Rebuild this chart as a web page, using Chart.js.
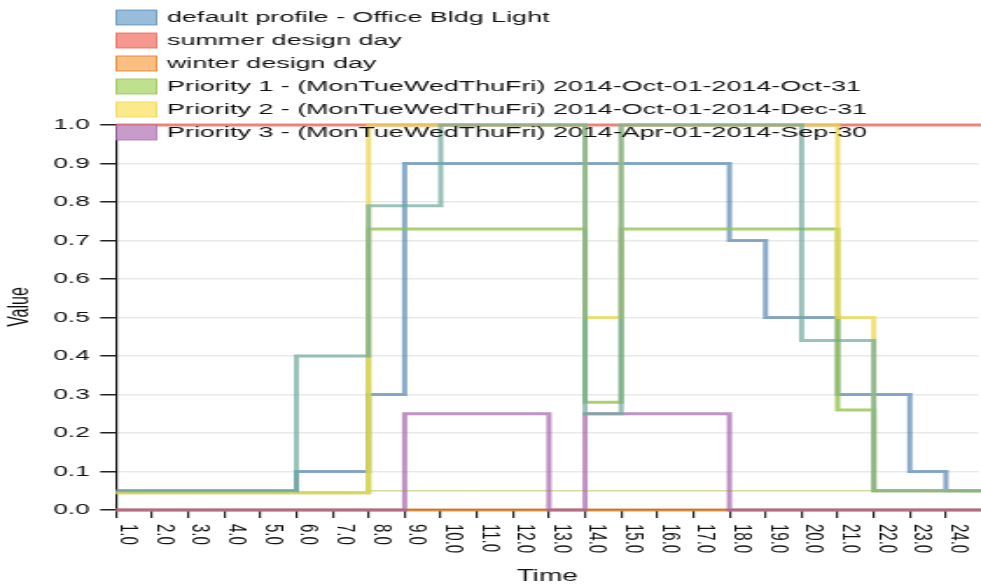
<!DOCTYPE html>
<html>
<head>
<meta charset="utf-8">
<title>Schedule profile - Office Bldg Light</title>
<script src="https://cdn.jsdelivr.net/npm/chart.js@4.4.1/dist/chart.umd.min.js"></script>
<style>
    html, body { margin: 0; padding: 0; background: #fff; overflow: hidden; }
    /* the source picture is stretched sideways, so the chart is drawn narrow and stretched */
    #wrap {
        position: absolute; left: 0; top: 0;
        width: 561px; height: 587px;
        transform: scaleX(1.7487); transform-origin: 0 0;
    }
</style>
</head>
<body>
<div id="wrap"><canvas id="schedule-chart"></canvas></div>
<script>
// ==========================================================
// === DATA (time axis = hour + 1) ===
// ==========================================================
const xTicks = [1, 2, 3, 4, 5, 6, 7, 8, 9, 10, 11, 12, 13, 14, 15, 16, 17, 18, 19, 20, 21, 22, 23, 24];
const yTicks = [0, 0.1, 0.2, 0.3, 0.4, 0.5, 0.6, 0.7, 0.8, 0.9, 1.0];

const seriesNames = [
    'default profile - Office Bldg Light',
    'summer design day',
    'winter design day',
    'Priority 1 - (MonTueWedThuFri) 2014-Oct-01-2014-Oct-31',
    'Priority 2 - (MonTueWedThuFri) 2014-Oct-01-2014-Dec-31',
    'Priority 3 - (MonTueWedThuFri) 2014-Apr-01-2014-Sep-30'
];

// each value holds from its time until the next time
const defaultTimes = [1, 6, 8, 9, 18, 19, 21, 23, 24, 25];
const defaultValues = [0.05, 0.1, 0.3, 0.9, 0.7, 0.5, 0.3, 0.1, 0.05, 0.05];

const summerTimes = [1, 25];
const summerValues = [1.0, 1.0];

const winterTimes = [1, 25];
const winterValues = [0, 0];

const priority1Times = [1, 8, 14, 15, 21, 22, 25];
const priority1Values = [0.045, 0.73, 0.28, 0.73, 0.26, 0.05, 0.05];

const priority2Times = [1, 8, 14, 15, 21, 22, 25];
const priority2Values = [0.045, 1.0, 0.5, 1.0, 0.5, 0.05, 0.05];

const priority3Times = [1, 9, 13, 14, 18, 25];
const priority3Values = [0, 0.25, 0, 0.25, 0, 0];

// lines drawn in the picture that have no legend entry
const tealTimes = [1, 6, 8, 10, 14, 15, 20, 22, 25];
const tealValues = [0.05, 0.4, 0.79, 1.0, 0.25, 1.0, 0.44, 0.05, 0.05];

const baseTimes = [8, 22];
const baseValues = [0.05, 0.05];

// ==========================================================
// === STYLES ===
// ==========================================================
const lineColors = [
    'rgba(60, 115, 165, 0.6)',
    'rgba(235, 95, 80, 0.75)',
    'rgba(225, 130, 45, 0.85)',
    'rgba(150, 195, 80, 0.8)',
    'rgba(235, 215, 80, 0.75)',
    'rgba(165, 100, 170, 0.7)'
];
const swatchFills = ['#98bcdc', '#f6988e', '#fbbf82', '#bfe08c', '#fbe98a', '#c89cca'];
const FONT = '"Liberation Sans", Arial, sans-serif';

const toPoints = (times, values) => times.map((t, i) => ({ x: t, y: values[i] }));

const makeLine = (label, times, values, color, order, width = 3) => ({
    label: label,
    data: toPoints(times, values),
    borderColor: color,
    backgroundColor: color,
    borderWidth: width,
    stepped: true,
    pointRadius: 0,
    fill: false,
    clip: 4,
    order: order
});

// ==========================================================
// === PLUGIN: rotated x labels, axis titles, legend ===
// ==========================================================
const overlayPlugin = {
    id: 'overlay',
    afterDraw(chart) {
        const ctx = chart.ctx;
        const xs = chart.scales.x;
        ctx.save();
        ctx.fillStyle = '#111';

        // x tick labels, read top to bottom
        ctx.font = `15px ${FONT}`;
        ctx.textAlign = 'left';
        ctx.textBaseline = 'middle';
        xs.ticks.forEach(t => {
            const px = xs.getPixelForValue(t.value);
            ctx.save();
            ctx.translate(px + 7, xs.top + 14);
            ctx.rotate(Math.PI / 2);
            ctx.fillText(t.value.toFixed(1), 0, 0);
            ctx.restore();
        });

        // axis titles
        ctx.font = `16px ${FONT}`;
        ctx.textAlign = 'center';
        ctx.fillText('Time', (chart.chartArea.left + chart.chartArea.right) / 2, 577);
        ctx.save();
        ctx.translate(11.5, 307);
        ctx.rotate(-Math.PI / 2);
        ctx.fillText('Value', 0, 0);
        ctx.restore();

        // legend
        ctx.font = `15.4px ${FONT}`;
        ctx.textAlign = 'left';
        seriesNames.forEach((name, i) => {
            const cy = 17.5 + i * 23;
            ctx.fillStyle = swatchFills[i];
            ctx.fillRect(66.5, cy - 7.5, 23, 15);
            ctx.strokeStyle = lineColors[i];
            ctx.lineWidth = 1;
            ctx.strokeRect(66.5, cy - 7.5, 23, 15);
            ctx.fillStyle = '#111';
            ctx.fillText(name, 95.5, cy);
        });
        ctx.restore();
    }
};

// ==========================================================
// === CHART ===
// ==========================================================
document.addEventListener('DOMContentLoaded', () => {
    const ctx = document.getElementById('schedule-chart').getContext('2d');

    new Chart(ctx, {
        type: 'line',
        data: {
            datasets: [
                makeLine('teal profile', tealTimes, tealValues, 'rgba(110, 170, 155, 0.7)', 0),
                makeLine(seriesNames[4], priority2Times, priority2Values, lineColors[4], 1),
                makeLine(seriesNames[3], priority1Times, priority1Values, lineColors[3], 2),
                makeLine(seriesNames[5], priority3Times, priority3Values, lineColors[5], 3),
                makeLine(seriesNames[0], defaultTimes, defaultValues, lineColors[0], 4),
                makeLine('base', baseTimes, baseValues, 'rgba(190, 205, 120, 0.7)', 5, 1.5),
                makeLine(seriesNames[1], summerTimes, summerValues, lineColors[1], 6),
                makeLine(seriesNames[2], winterTimes, winterValues, lineColors[2], 7)
            ]
        },
        options: {
            responsive: true,
            maintainAspectRatio: false,
            animation: false,
            events: [],
            layout: { padding: { top: 125, right: 0, left: 0, bottom: 0 } },
            plugins: {
                legend: { display: false },
                tooltip: { enabled: false }
            },
            scales: {
                x: {
                    type: 'linear',
                    min: xTicks[0],
                    max: 24.9,
                    afterFit: (scale) => { scale.height = 77; },
                    afterBuildTicks: (scale) => { scale.ticks = xTicks.map(v => ({ value: v })); },
                    ticks: { display: false, includeBounds: false },
                    grid: {
                        drawOnChartArea: false,
                        drawTicks: true,
                        tickLength: 8,
                        tickColor: '#222',
                        lineWidth: 1.2
                    },
                    border: { display: true, color: '#222', width: 1.2 }
                },
                y: {
                    type: 'linear',
                    min: 0,
                    max: 1,
                    afterFit: (scale) => { scale.width = 66.3; },
                    afterBuildTicks: (scale) => { scale.ticks = yTicks.map(v => ({ value: v })); },
                    ticks: {
                        padding: 6,
                        color: '#111',
                        font: { family: FONT, size: 15 },
                        callback: (value) => value.toFixed(1)
                    },
                    grid: {
                        color: '#e9e9e9',
                        lineWidth: 1.5,
                        tickLength: 9,
                        tickColor: '#222'
                    },
                    border: { display: true, color: '#111', width: 1.2 }
                }
            }
        },
        plugins: [overlayPlugin]
    });
});
</script>
</body>
</html>
